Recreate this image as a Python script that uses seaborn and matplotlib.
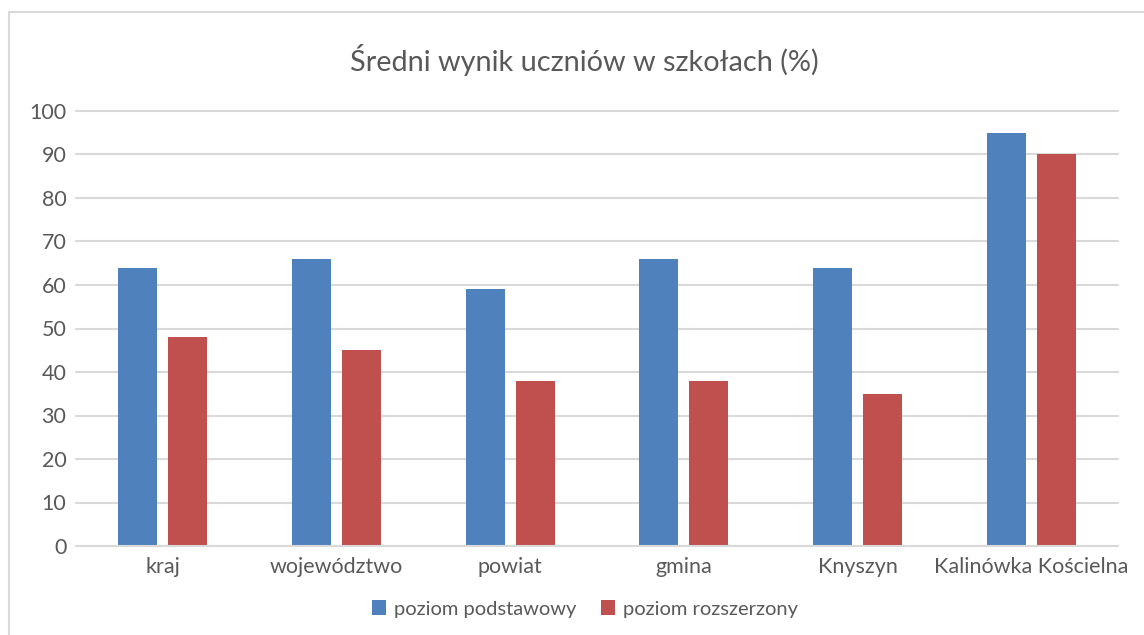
import numpy as np
import pandas as pd
import seaborn as sns
import matplotlib.pyplot as plt
from matplotlib.patches import Rectangle

categories = ["kraj", "województwo", "powiat", "gmina", "Knyszyn", "Kalinówka Kościelna"]
podstawowy = [64, 66, 59, 66, 64, 95]
rozszerzony = [48, 45, 38, 38, 35, 90]
series = ["poziom podstawowy", "poziom rozszerzony"]

df = pd.DataFrame({
    "kategoria": categories * 2,
    "wynik": podstawowy + rozszerzony,
    "poziom": [series[0]] * len(categories) + [series[1]] * len(categories),
})

sns.set_theme(style="white")
plt.rcParams['font.family'] = ['Lato', 'DejaVu Sans']
TXT = "#595959"
GRID = "#d9d9d9"

fig = plt.figure(figsize=(11.44, 6.35), dpi=100)
ax = fig.add_axes([76 / 1144, 1 - 546 / 635, (1118 - 76) / 1144, (546 - 111) / 635])

sns.barplot(data=df, x="kategoria", y="wynik", hue="poziom",
            palette=["#4f81bd", "#c0504d"], width=0.576, gap=0.22,
            saturation=1, linewidth=0, ax=ax, zorder=3)

ax.set_ylim(0, 100)
ax.set_xlim(-0.5, len(categories) - 0.5)
ax.set_yticks(np.arange(0, 101, 10))
for y in np.arange(10, 101, 10):
    ax.axhline(y, color=GRID, lw=1.5, zorder=1, clip_on=False)
ax.axhline(0, color=GRID, lw=1.5, zorder=4, clip_on=False)
for s in ax.spines.values():
    s.set_visible(False)
ax.set_xlabel("")
ax.set_ylabel("")
ax.tick_params(axis="both", length=0, labelsize=15.5, colors=TXT)
ax.tick_params(axis="y", pad=7)
ax.tick_params(axis="x", pad=8)

fig.text(584 / 1144, 1 - 60 / 635, "Średni wynik uczniów w szkołach (%)",
         ha="center", va="center", fontsize=20.8, color=TXT)

handles, labels = ax.get_legend_handles_labels()
ax.legend_.remove()
fig.legend(handles, labels, loc="center", bbox_to_anchor=(585 / 1144, 1 - 609 / 635),
           ncol=2, frameon=False, fontsize=14.5, labelcolor=TXT,
           handlelength=0.7, handleheight=0.7, handletextpad=0.4, columnspacing=1.2)

fig.patches.append(Rectangle((9 / 1144, -0.2), 1.2, 1.2 - 12 / 635,
                             transform=fig.transFigure, fill=False,
                             edgecolor=GRID, lw=1.5))

fig.savefig("out.png", dpi=100)
